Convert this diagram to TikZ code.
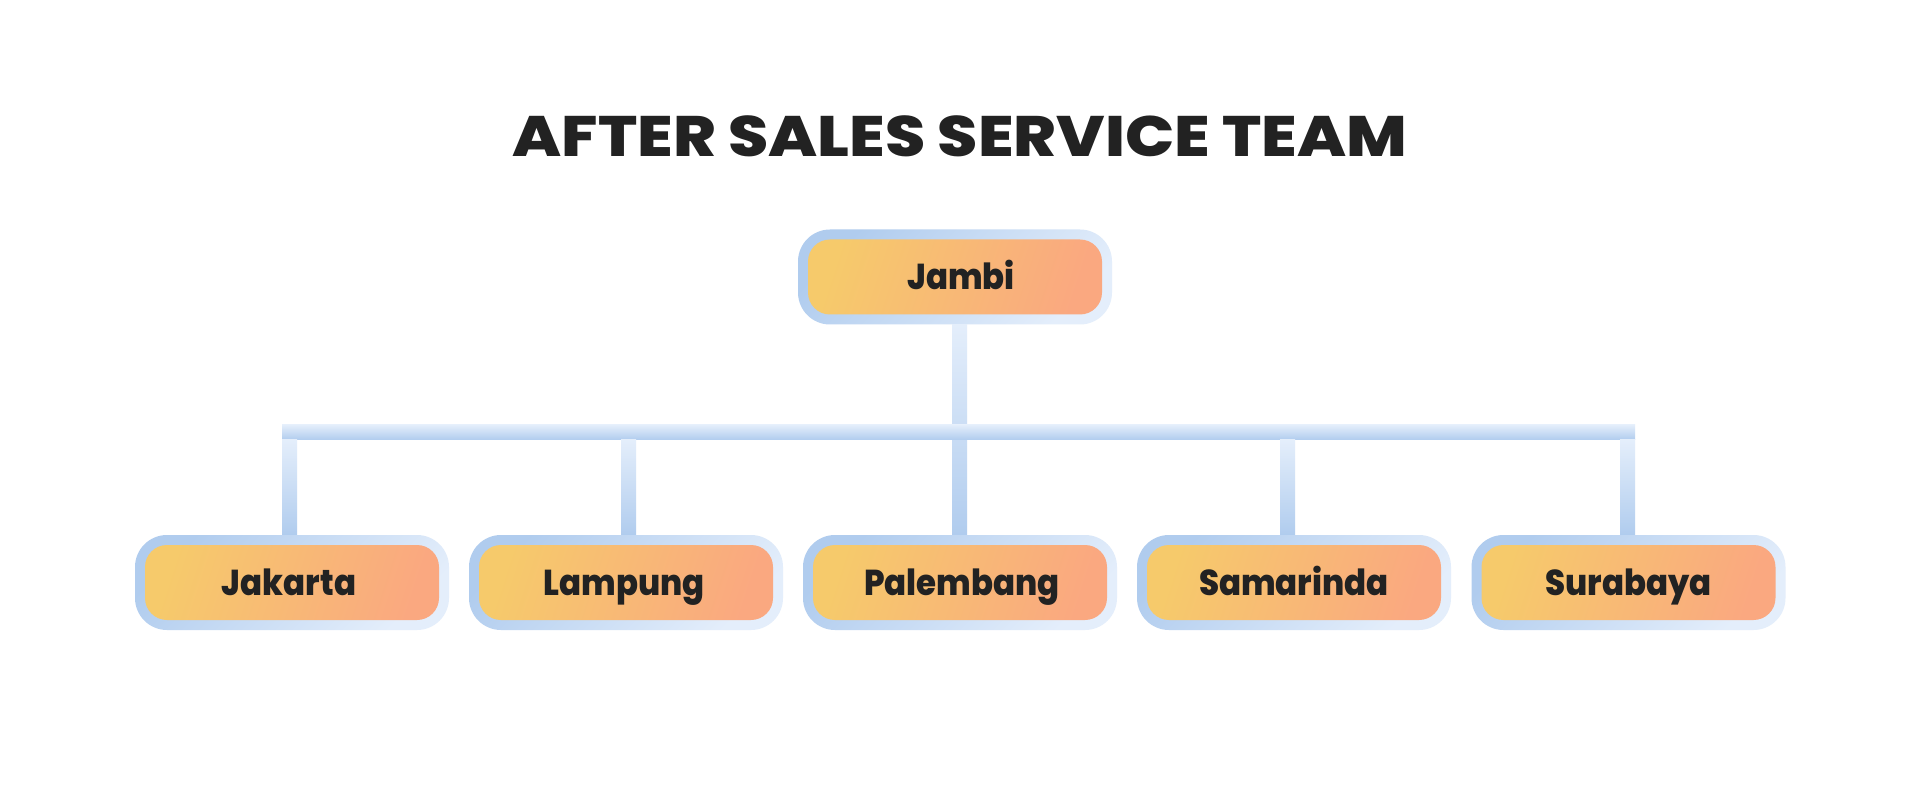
\documentclass[tikz,border=0pt]{standalone}
\usepackage{fontspec}
\setmainfont{Poppins}
\newfontfamily\boxfont{Poppins ExtraBold}[FakeStretch=0.9]
\newfontfamily\titlefont{Poppins ExtraBold}[FakeStretch=1.14]
\usetikzlibrary{calc}
\definecolor{bdark}{HTML}{B0CCEE}
\definecolor{blight}{HTML}{E4EEFB}
\definecolor{fyel}{HTML}{F6CA6B}
\definecolor{fsal}{HTML}{FAA880}
\definecolor{txt}{HTML}{222222}
\tikzset{
  outerbox/.style={minimum width=314pt, minimum height=95pt, inner sep=0pt,
    rounded corners=32pt, top color=bdark, bottom color=blight, shading angle=45},
  innerbox/.style={minimum width=294pt, minimum height=75pt, inner sep=0pt,
    rounded corners=22pt, top color=fyel, bottom color=fsal, shading angle=72},
  boxtext/.style={font=\boxfont\fontsize{36}{40}\selectfont, text=txt, inner sep=0pt,
    text height=25pt, text depth=0pt},
  vconn/.style={top color=blight, bottom color=bdark},
  titlestyle/.style={font=\titlefont\fontsize{57}{60}\selectfont, text=txt, inner sep=0pt, anchor=base}
}
\newcommand\orgbox[5][0]{%
  \node[outerbox] (#2) at (#3,#4) {};
  \node[innerbox] (#2-in) at (#2.center) {};
  \node[boxtext] (#2-txt) at ($(#2.center)+(#1,0)$) {#5};
}
\begin{document}
\begin{tikzpicture}[x=1pt,y=1pt]
\useasboundingbox (0,0) rectangle (1920,-810);
\fill[white] (0,0) rectangle (1920,-810);
\node[titlestyle] (title) at (960,-157) {AFTER SALES SERVICE TEAM};
% boxes
\orgbox[6]{jambi}{955}{-277}{Jambi}
\orgbox[-3]{jakarta}{292}{-582.5}{Jakarta}
\orgbox[-2]{lampung}{626}{-582.5}{Lampung}
\orgbox[2]{palembang}{960}{-582.5}{Palembang}
\orgbox{samarinda}{1294}{-582.5}{Samarinda}
\orgbox{surabaya}{1628.5}{-582.5}{Surabaya}
% central trunk
\shade[vconn] ($(jambi.south -| palembang.north)+(-8,0)$) rectangle ($(palembang.north)+(7,0)$);
% bar
\coordinate (barL) at ($(jakarta.north)+(-10,110)$);
\coordinate (barR) at ($(surabaya.north)+(6.5,95)$);
\shade[vconn] (barL) rectangle (barR);
% child verticals
\shade[vconn] ($(jakarta.north)+(-10,0)$) rectangle ($(jakarta.north |- barR)+(5,0)$);
\shade[vconn] ($(lampung.north)+(-5,0)$) rectangle ($(lampung.north |- barR)+(10,0)$);
\shade[vconn] ($(samarinda.north)+(-14,0)$) rectangle ($(samarinda.north |- barR)+(1,0)$);
\shade[vconn] ($(surabaya.north)+(-8.5,0)$) rectangle ($(surabaya.north |- barR)+(6.5,0)$);
\end{tikzpicture}
\end{document}
